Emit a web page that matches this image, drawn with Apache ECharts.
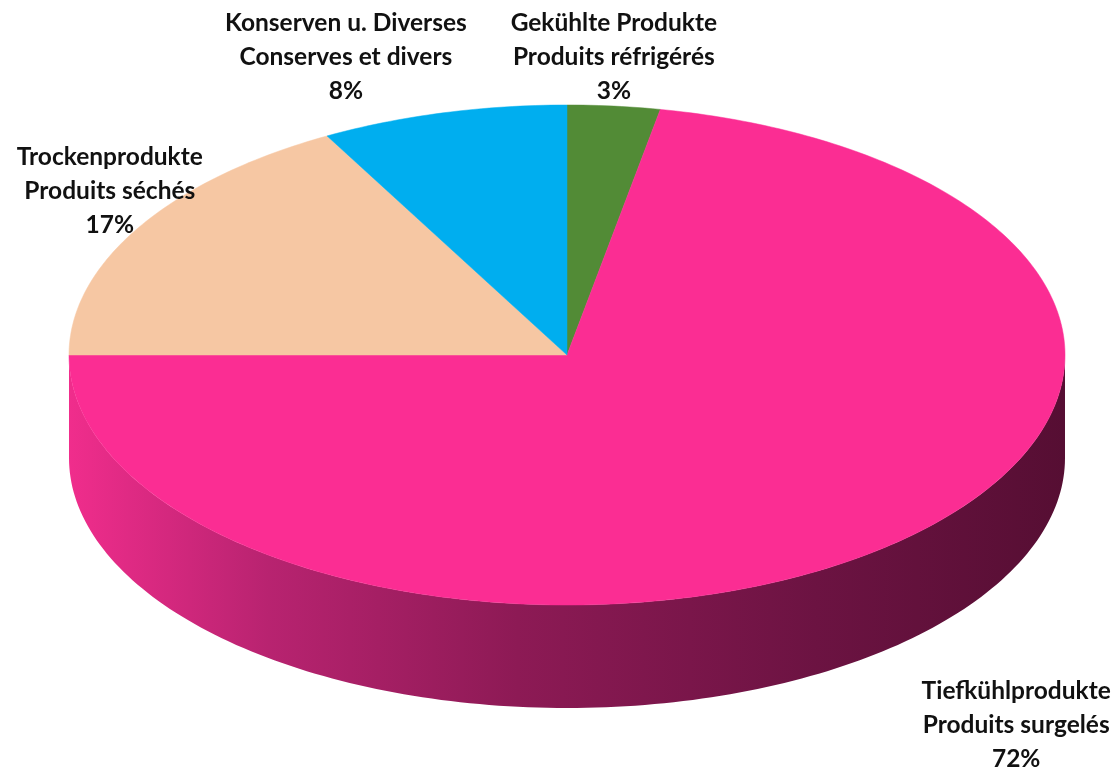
<!DOCTYPE html>
<html>
<head>
<meta charset="utf-8">
<script src="https://cdn.jsdelivr.net/npm/echarts@6/dist/echarts.min.js"></script>
<style>
  html, body { margin: 0; padding: 0; background: #fff; }
  #chart { width: 1117px; height: 768px; }
</style>
</head>
<body>
<div id="chart"></div>
<script>
// Anteile / parts (in %), clockwise from 12 o'clock
var categories = [
  'Gekühlte Produkte\nProduits réfrigérés',
  'Tiefkühlprodukte\nProduits surgelés',
  'Trockenprodukte\nProduits séchés',
  'Konserven u. Diverses\nConserves et divers'
];
var values = [3, 72, 17, 8];

// colours of the top faces
var colors = ['#528b36', '#fb2d93', '#f6c7a3', '#00aeef'];
var sideColors = ['#2f5220', null, '#b08a6f', '#00739e'];

// label anchors in ellipse units (1 = rim of the top face)
var labelPos = [[0.094, 1.19], [0.902, -1.48], [-0.918, 0.655], [-0.444, 1.19]];
var depth = 0.412; // thickness of the disc, in y units

var total = values.reduce(function (a, b) { return a + b; }, 0);
var startAngles = [];
(function () {
  var cum = 0;
  values.forEach(function (v) {
    startAngles.push(Math.PI / 2 - cum / total * Math.PI * 2);
    cum += v;
  });
})();

function sliceRange(i) {
  var a0 = startAngles[i];
  var a1 = a0 - values[i] / total * Math.PI * 2;
  return [a0, a1];
}

var myChart = echarts.init(document.getElementById('chart'));

function renderTop(params, api) {
  var i = params.dataIndex;
  var r = sliceRange(i);
  var pts = [api.coord([0, 0])];
  var n = Math.max(8, Math.ceil(values[i] * 4));
  for (var k = 0; k <= n; k++) {
    var a = r[0] + (r[1] - r[0]) * k / n;
    pts.push(api.coord([Math.cos(a), Math.sin(a)]));
  }
  var lp = api.coord(labelPos[i]);
  var pct = Math.round(values[i] / total * 100) + '%';
  return {
    type: 'group',
    children: [{
      type: 'polygon',
      shape: { points: pts },
      style: { fill: colors[i], stroke: colors[i], lineWidth: 0.5 }
    }, {
      type: 'text',
      style: {
        text: categories[i] + '\n' + pct,
        x: lp[0], y: lp[1],
        align: 'center', verticalAlign: 'middle',
        fontFamily: 'Lato', fontWeight: 'bold', fontSize: 24.5,
        lineHeight: 34, fill: '#111'
      }
    }]
  };
}

function renderSide(params, api) {
  var i = params.dataIndex;
  var r = sliceRange(i);
  // visible front half: angles in [-PI, 0]
  var hi = r[0], lo = r[1];
  while (lo > 0) { lo -= 2 * Math.PI; hi -= 2 * Math.PI; }
  var a0 = Math.min(hi, 0), a1 = Math.max(lo, -Math.PI);
  if (a0 <= a1) return null;
  var n = 160, top = [], bot = [];
  for (var k = 0; k <= n; k++) {
    var a = a0 + (a1 - a0) * k / n;
    top.push(api.coord([Math.cos(a), Math.sin(a)]));
    bot.push(api.coord([Math.cos(a), Math.sin(a) - depth]));
  }
  var pts = top.concat(bot.reverse());
  var fill = sideColors[i] || new echarts.graphic.LinearGradient(1, 0, 0, 0, [
    { offset: 0, color: '#560e33' },
    { offset: 0.25, color: '#6c1342' },
    { offset: 0.55, color: '#8d1a55' },
    { offset: 0.8, color: '#b82370' },
    { offset: 1, color: '#f02d8c' }
  ]);
  return {
    type: 'polygon',
    shape: { points: pts },
    style: { fill: fill }
  };
}

var option = {
  animation: false,
  grid: { left: 69, right: 52, top: 105, bottom: 163 },
  xAxis: { type: 'value', min: -1, max: 1, show: false },
  yAxis: { type: 'value', min: -1, max: 1, show: false },
  series: [{
    type: 'custom',
    name: 'side',
    renderItem: renderSide,
    data: values,
    clip: false,
    silent: true
  }, {
    type: 'custom',
    name: 'top',
    renderItem: renderTop,
    data: values,
    clip: false
  }]
};
myChart.setOption(option);
</script>
</body>
</html>
